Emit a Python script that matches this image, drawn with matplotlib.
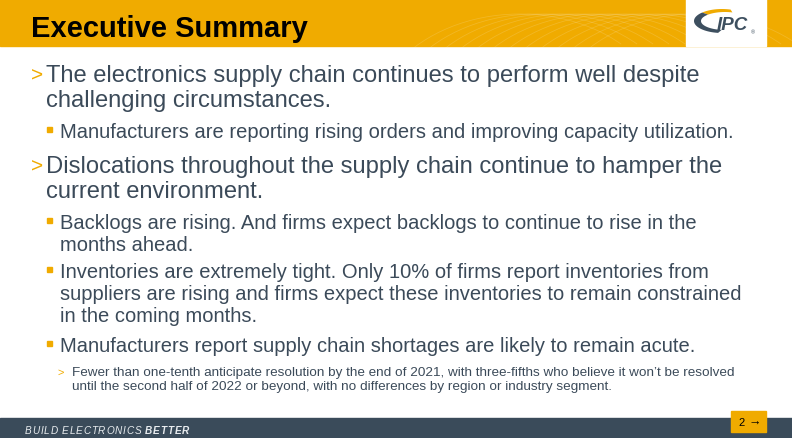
import numpy as np
import matplotlib.pyplot as plt
from matplotlib.patches import Rectangle, Arc, Polygon

YELLOW = '#F0AB00'
SLATE = '#3B4A59'
FOOT = '#3A4B5A'
LOGO = '#3D4F5F'

title = "Executive Summary"

# level 1 bullets (">")
lvl1 = [
    ["The electronics supply chain continues to perform well despite",
     "challenging circumstances."],
    ["Dislocations throughout the supply chain continue to hamper the",
     "current environment."],
]
lvl1_y = [82, 173]

# level 2 bullets (squares)
lvl2 = [
    ["Manufacturers are reporting rising orders and improving capacity utilization."],
    ["Backlogs are rising. And firms expect backlogs to continue to rise in the",
     "months ahead."],
    ["Inventories are extremely tight. Only 10% of firms report inventories from",
     "suppliers are rising and firms expect these inventories to remain constrained",
     "in the coming months."],
    ["Manufacturers report supply chain shortages are likely to remain acute."],
]
lvl2_y = [138, 229, 278, 352]

# level 3 bullets (small ">")
lvl3 = [
    ["Fewer than one-tenth anticipate resolution by the end of 2021, with three-fifths who believe it won\u2019t be resolved",
     "until the second half of 2022 or beyond, with no differences by region or industry segment."],
]
lvl3_y = [376]

footer = [("BUILD ELECTRONICS ", 'normal'), ("BETTER", 'bold')]
page = "2"

plt.rcParams['font.family'] = ['Liberation Sans', 'DejaVu Sans']

fig = plt.figure(figsize=(7.92, 4.39), dpi=100)
ax = fig.add_axes([0, 0, 1, 1])
ax.set_xlim(0, 792)
ax.set_ylim(439, 0)
ax.axis('off')
renderer = fig.canvas.get_renderer()

# header band
ax.add_patch(Rectangle((0, 0), 792, 47, color=YELLOW, zorder=0))
for i in range(12):
    ax.add_patch(Arc((520 + i * 16, 130), 300, 230, theta1=200, theta2=320,
                     color='white', alpha=0.15, lw=0.6))
# logo box
ax.add_patch(Rectangle((686, 0), 80, 47, color='white', zorder=1))


def crescent(t0, t1, color):
    t = np.radians(np.linspace(t0, t1, 40))
    outer = np.c_[722 + 28 * np.cos(t), 22 - 12 * np.sin(t)]
    inner = np.c_[725 + 24 * np.cos(t[::-1]), 22 - 9 * np.sin(t[::-1])]
    ax.add_patch(Polygon(np.r_[outer, inner], closed=True, color=color, lw=0, zorder=2))


crescent(72, 135, YELLOW)
crescent(135, 262, LOGO)
ax.text(717, 30, "IPC", fontsize=13.5, fontweight='bold', style='italic',
        color=LOGO, va='baseline', ha='left', zorder=3)
ax.text(751, 34, "\u00ae", fontsize=4, color=LOGO, va='baseline', zorder=3)

ax.text(31, 37, title, fontsize=21, fontweight='bold', color='black', va='baseline')

# level 1
for lines, y in zip(lvl1, lvl1_y):
    ax.text(31, y, ">", fontsize=15, color=YELLOW, va='baseline')
    for j, ln in enumerate(lines):
        ax.text(46, y + j * 25, ln, fontsize=17.1, color=SLATE, va='baseline')

# level 2
for lines, y in zip(lvl2, lvl2_y):
    ax.add_patch(Rectangle((47, y - 10), 5, 5, color=YELLOW))
    for j, ln in enumerate(lines):
        ax.text(60, y + j * 22, ln, fontsize=14.5, color=SLATE, va='baseline')

# level 3
for lines, y in zip(lvl3, lvl3_y):
    ax.text(57, y, ">", fontsize=8, color=YELLOW, va='baseline')
    for j, ln in enumerate(lines):
        ax.text(72, y + j * 14, ln, fontsize=9.7, color=SLATE, va='baseline')

# footer, letter-spaced
ax.add_patch(Rectangle((0, 419), 792, 20, color=FOOT))
x = 25.0
for word, weight in footer:
    for ch in word:
        t = ax.text(x, 434, ch, fontsize=7.2, style='italic', fontweight=weight,
                    color='#E8ECEF', va='baseline')
        w = t.get_window_extent(renderer).width if ch != ' ' else 2.6
        x += w + 0.8
ax.add_patch(Rectangle((731, 412), 35, 21, color=YELLOW, zorder=3))
ax.text(742, 423, page, fontsize=8, color='black', va='center', ha='center', zorder=4)
ax.text(755, 423, "\u2192", fontsize=9, fontweight='bold', color='black', va='center', ha='center', zorder=4)

fig.savefig('out.png', dpi=100)
